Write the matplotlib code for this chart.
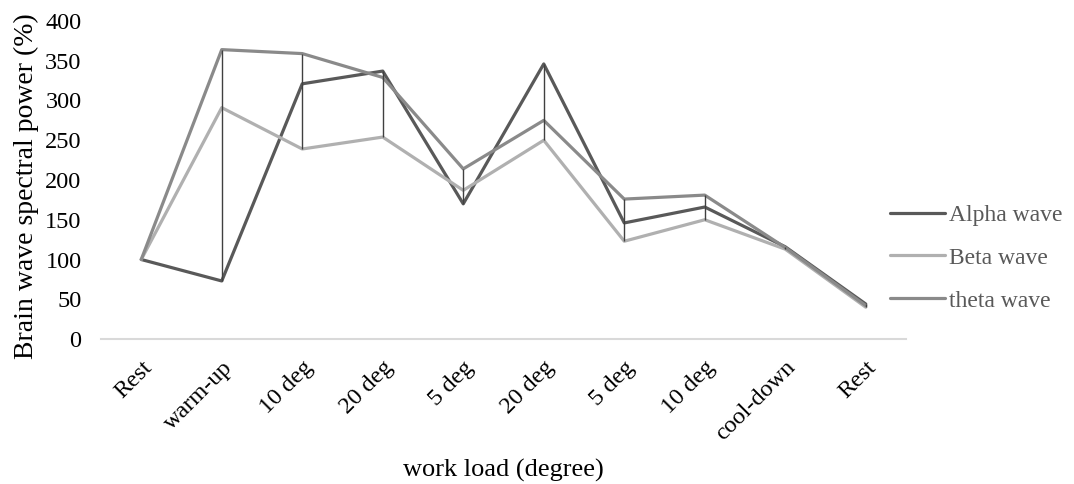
import matplotlib
matplotlib.use('Agg')
import matplotlib.pyplot as plt
import matplotlib.transforms as mtransforms
import numpy as np

# categories / series
categories = ['Rest', 'warm-up', '10 deg', '20 deg', '5 deg',
              '20 deg', '5 deg', '10 deg', 'cool-down', 'Rest']
alpha = [100, 73, 321, 337, 170, 346, 146, 166, 116, 44]
beta = [100, 291, 239, 254, 187, 250, 123, 150, 113, 40]
theta = [100, 364, 359, 329, 214, 275, 176, 181, 115, 42]
yticks = [0, 50, 100, 150, 200, 250, 300, 350, 400]

plt.rcParams['font.family'] = ['Liberation Serif', 'DejaVu Serif']

fig = plt.figure(figsize=(10.74, 4.84), dpi=100)
ax = fig.add_axes([101/1074, 1 - 339/484, (906-101)/1074, (339-21)/484])

x = np.arange(len(categories))
series = [('Alpha wave', alpha, '#595959'),
          ('Beta wave', beta, '#b0b0b0'),
          ('theta wave', theta, '#8a8a8a')]
handles = []
for name, vals, col in series:
    h, = ax.plot(x, vals, color=col, lw=2.3, label=name,
                 solid_joinstyle='round', solid_capstyle='round', zorder=3)
    handles.append(h)

# high-low lines
stack = np.array([alpha, beta, theta])
ax.vlines(x, stack.min(axis=0), stack.max(axis=0), color='#404040', lw=1.0, zorder=4)

ax.set_xlim(-0.5, len(categories) - 0.5)
ax.set_ylim(0, 400)
ax.set_yticks(yticks)
ax.set_xticks(x)
ax.set_xticklabels(categories, rotation=45, ha='right', va='top', rotation_mode='anchor')
offset = mtransforms.ScaledTranslation(4/100, 0, fig.dpi_scale_trans)
for lbl in ax.get_xticklabels():
    lbl.set_transform(lbl.get_transform() + offset)
ax.tick_params(axis='both', length=0, labelsize=17.5, colors='#000000')
ax.tick_params(axis='x', pad=13)
ax.tick_params(axis='y', pad=14)

for s in ['top', 'right', 'left']:
    ax.spines[s].set_visible(False)
ax.spines['bottom'].set_color('#d9d9d9')
ax.spines['bottom'].set_linewidth(1.5)

ax.set_xlabel('work load (degree)', fontsize=19, va='center')
ax.xaxis.set_label_coords(0.5, (339 - 470) / 318)
ax.set_ylabel('Brain wave spectral power (%)', fontsize=20, va='center')
ax.yaxis.set_label_coords((26 - 101) / 805, (339 - 186) / 318)

leg = fig.legend(handles=handles, loc='center left', bbox_to_anchor=(869/1074, 1 - 258/484),
                 frameon=False, fontsize=17, handlelength=2.3, handletextpad=0.2,
                 labelspacing=0.9, labelcolor='#595959')

fig.savefig('out.png', dpi=100)
